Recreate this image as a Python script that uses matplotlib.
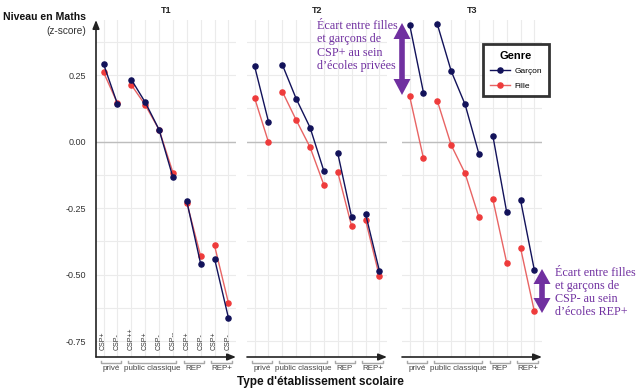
import numpy as np
import matplotlib
matplotlib.use("Agg")
import matplotlib.pyplot as plt
from matplotlib.lines import Line2D
from matplotlib.patches import Polygon
from matplotlib.transforms import blended_transform_factory, IdentityTransform

plt.rcParams["font.family"] = ["Liberation Sans", "DejaVu Sans"]

# Données
panels = ["T1", "T2", "T3"]
csp_labels = ["CSP+", "CSP-", "CSP++", "CSP+", "CSP-", "CSP--", "CSP+", "CSP-", "CSP+", "CSP-"]
groups = ["privé", "public classique", "REP", "REP+"]
group_idx = [[1, 2], [3, 4, 5, 6], [7, 8], [9, 10]]

garcon = {
    "T1": [0.291, 0.141, 0.233, 0.148, 0.045, -0.134, -0.224, -0.459, -0.439, -0.661],
    "T2": [0.283, 0.075, 0.289, 0.161, 0.053, -0.111, -0.044, -0.284, -0.271, -0.485],
    "T3": [0.440, 0.184, 0.441, 0.265, 0.140, -0.046, 0.023, -0.264, -0.219, -0.483],
}
fille = {
    "T1": [0.260, 0.144, 0.213, 0.138, 0.045, -0.116, -0.229, -0.430, -0.390, -0.605],
    "T2": [0.164, -0.002, 0.188, 0.081, -0.021, -0.163, -0.115, -0.318, -0.294, -0.506],
    "T3": [0.171, -0.063, 0.153, -0.013, -0.119, -0.284, -0.216, -0.454, -0.399, -0.638],
}

navy = "#12125a"
red_pt = "#ee3b3b"
red_ln = "#e86464"
purple = "#7030a0"

W, H = 640, 392
fig = plt.figure(figsize=(W / 100, H / 100), dpi=100)

ax_left = [96, 247, 402]
ax_w = 140
ax_top, ax_bot = 20, 357
ylim = (-0.809, 0.457)
xlim = (0.45, 10.55)

axes = []
for i, p in enumerate(panels):
    ax = fig.add_axes([ax_left[i] / W, (H - ax_bot) / H, ax_w / W, (ax_bot - ax_top) / H])
    axes.append(ax)
    ax.set_xlim(*xlim)
    ax.set_ylim(*ylim)
    x = np.arange(1, 11)

    # grille
    for xv in x:
        ax.axvline(xv, color="#ebebeb", lw=0.8, zorder=0)
    for yv in np.arange(-0.75, 0.45, 0.125):
        ax.axhline(yv, color="#ebebeb", lw=0.8, zorder=0)
    ax.axhline(0, color="#bdbdbd", lw=1, zorder=0.5)

    g = np.array(garcon[p])
    f = np.array(fille[p])
    for idx in group_idx:
        ii = np.array(idx) - 1
        ax.plot(x[ii], g[ii], color=navy, lw=1.0, marker="o", ms=3.7, mec=navy, mfc=navy, zorder=3)
        ax.plot(x[ii], f[ii], color=red_ln, lw=1.0, marker="o", ms=3.7, mec=red_pt, mfc=red_pt, zorder=2)

    for s in ax.spines.values():
        s.set_visible(False)
    ax.set_xticks([])
    ax.tick_params(axis="y", length=0, pad=7, labelsize=6.5, labelcolor="#333333")
    if i == 0:
        ax.set_yticks([-0.75, -0.5, -0.25, 0, 0.25])
        ax.set_yticklabels(["-0.75", "-0.50", "-0.25", "0.00", "0.25"])
        ax.annotate("", xy=(0, 1), xytext=(0, 0), xycoords="axes fraction",
                    arrowprops=dict(arrowstyle="-|>,head_length=0.5,head_width=0.2",
                                    color="#222222", lw=1.2, shrinkA=0, shrinkB=0))
    else:
        ax.set_yticks([])
    ax.annotate("", xy=(1, 0), xytext=(0, 0), xycoords="axes fraction",
                arrowprops=dict(arrowstyle="-|>,head_length=0.5,head_width=0.2",
                                color="#222222", lw=1.2, shrinkA=0, shrinkB=0))

    ax.set_title(p, fontsize=6.5, fontweight="bold", color="#222222", pad=5)

    # accolades des groupes sous l'axe
    tr = blended_transform_factory(ax.transData, ax.transAxes)
    for name, idx in zip(groups, group_idx):
        a, b = idx[0] - 0.22, idx[-1] + 0.25
        ax.plot([a, a, b, b], [-0.011, -0.018, -0.018, -0.011], transform=tr,
                color="#a8a8a8", lw=1.0, clip_on=False)
        ax.text((a + b) / 2, -0.035, name, transform=tr, ha="center", va="center",
                fontsize=5.8, color="#444444")

    if i == 0:
        for xv, lab in zip(x, csp_labels):
            ax.text(xv, 0.022, lab, transform=tr, rotation=90, ha="center", va="bottom",
                    fontsize=5, color="#333333")

fig.text(86 / W, 1 - 17 / H, "Niveau en Maths", ha="right", va="center",
         fontsize=7.6, fontweight="bold", color="#111111")
fig.text(86 / W, 1 - 31 / H, "(z-score)", ha="right", va="center",
         fontsize=7.3, color="#333333")
fig.text(320 / W, 1 - 382 / H, "Type d'établissement scolaire", ha="center", va="center",
         fontsize=8.5, fontweight="bold", color="#111111")

# légende
handles = [
    Line2D([], [], color=navy, lw=1.0, marker="o", ms=3.7, mfc=navy, mec=navy),
    Line2D([], [], color=red_ln, lw=1.0, marker="o", ms=3.7, mfc=red_pt, mec=red_pt),
]
leg = fig.legend(handles, ["Garçon", "Fille"], title="Genre", loc="upper left",
                 bbox_to_anchor=(483 / W, 1 - 44 / H), bbox_transform=fig.transFigure,
                 fontsize=6, title_fontproperties={"weight": "bold", "size": 8},
                 frameon=True, fancybox=False, edgecolor="black", handlelength=2.4,
                 borderpad=0.8, labelspacing=0.8, handletextpad=0.6, borderaxespad=0)
leg.get_frame().set_linewidth(2)

# annotations violettes
ann_font = ["Liberation Serif", "DejaVu Serif"]
fig.text(317 / W, 1 - 20 / H, "Écart entre filles\net garçons de\nCSP+ au sein\nd’écoles privées",
         ha="left", va="top", fontsize=8.7, color=purple, family=ann_font, linespacing=1.14)
fig.text(555 / W, 1 - 267 / H, "Écart entre filles\net garçons de\nCSP- au sein\nd’écoles REP+",
         ha="left", va="top", fontsize=8.7, color=purple, family=ann_font, linespacing=1.12)


def double_arrow(x, y0, y1, hl=16, hw=8.5, sw=2.8):
    pts = [(x, y0), (x + hw, y0 + hl), (x + sw, y0 + hl), (x + sw, y1 - hl),
           (x + hw, y1 - hl), (x, y1), (x - hw, y1 - hl), (x - sw, y1 - hl),
           (x - sw, y0 + hl), (x - hw, y0 + hl)]
    pts = [(px, H - py) for px, py in pts]
    fig.add_artist(Polygon(pts, closed=True, facecolor=purple, edgecolor="none",
                           transform=IdentityTransform()))


double_arrow(402, 23, 95)
double_arrow(542, 269, 313, hl=15)

fig.savefig("out.png", dpi=100)
